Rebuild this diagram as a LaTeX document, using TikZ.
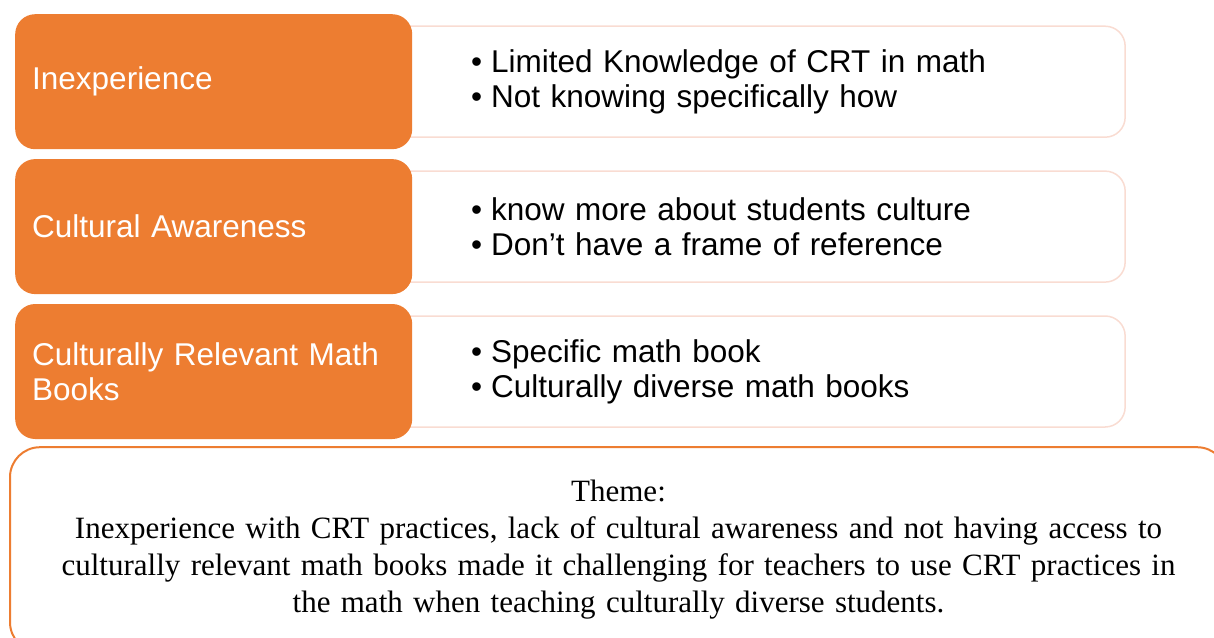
\documentclass[tikz,border=0pt]{standalone}
\usepackage{fontspec}
\setmainfont{Liberation Serif}
\newfontfamily\labelfont{Liberation Sans}
\usepackage{tikz}
\usetikzlibrary{positioning, backgrounds}
\definecolor{accent}{HTML}{ED7D31}
\definecolor{softline}{HTML}{F9DCD2}
\newcommand{\bulletline}[1]{\makebox[20pt][l]{\textbullet}#1}

\begin{document}
\begin{tikzpicture}[
				x=1pt, y=1pt,
				node distance=9.5pt,
				header/.style={fill=accent, rounded corners=20pt, minimum width=397pt, minimum height=135pt,
					text width=363pt, inner xsep=17pt, align=left, text=white,
					font=\labelfont\fontsize{31.5}{35}\selectfont},
				detail/.style={draw=softline, line width=1.5pt, fill=white, rounded corners=20pt,
					minimum width=744pt, minimum height=111pt, text width=564pt, inner xsep=90pt,
					align=left, font=\labelfont\fontsize{31.5}{35}\selectfont},
				themebox/.style={draw=accent, line width=2pt, fill=white, rounded corners=30pt,
					minimum width=1217pt, minimum height=205pt, text width=1190pt, align=center,
					font=\fontsize{31}{37}\selectfont}]

			\useasboundingbox (0,0) rectangle (1214,-637);
			\clip (0,0) rectangle (1214,-637);

			\node[header, anchor=north west] (inexp) at (15,-14) {Inexperience};
			\node[header, below=of inexp] (aware) {Cultural Awareness};
			\node[header, below=of aware] (books) {Culturally Relevant Math\\Books};

			\begin{scope}[on background layer]
			\node[detail, right=-32pt of inexp] (inexpnote) {\bulletline{Limited Knowledge of CRT in math}\\\bulletline{Not knowing specifically how}};
			\node[detail, right=-32pt of aware] (awarenote) {\bulletline{know more about students culture}\\\bulletline{Don’t have a frame of reference}};
			\node[detail, right=-32pt of books] (booksnote) {\bulletline{Specific math book}\\\bulletline{Culturally diverse math books}};
			\end{scope}

			\node[themebox, below=7pt of books.south west, anchor=north west, xshift=-6pt] (theme)
				{Theme:\\Inexperience with CRT practices, lack of cultural awareness and not having access to\\
				culturally relevant math books made it challenging for teachers to use CRT practices in\\
				the math when teaching culturally diverse students.};

		\end{tikzpicture}
\end{document}
